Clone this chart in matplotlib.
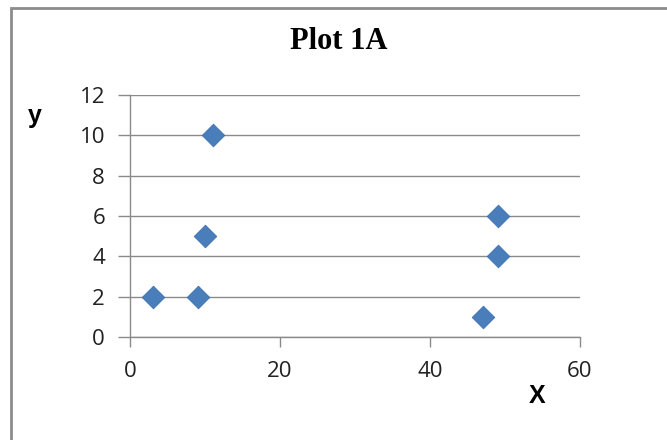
import matplotlib
matplotlib.use("Agg")
import matplotlib.pyplot as plt
from matplotlib.patches import Rectangle

# Data
x_vals = [3, 9, 10, 11, 47, 49, 49]
y_vals = [2, 2, 5, 10, 1, 4, 6]
x_ticks = [0, 20, 40, 60]
y_ticks = [0, 2, 4, 6, 8, 10, 12]
title = "Plot 1A"

W, H = 667, 440
fig = plt.figure(figsize=(W / 100, H / 100), dpi=100)
fig.patch.set_facecolor("white")

# Chart frame (open on right and bottom)
fig.patches.append(Rectangle((10.5 / W, -0.1), 1.2, (H - 8) / H + 0.1,
                             transform=fig.transFigure, fill=False,
                             edgecolor="#8c8c8c", linewidth=2.0))

ax = fig.add_axes([130 / W, 1 - 337 / H, 450 / W, 242 / H])
ax.scatter(x_vals, y_vals, marker="D", s=11.5 ** 2, color="#4a7ebb",
           edgecolor="#3f71ad", linewidth=0.6, zorder=3)

ax.set_xlim(0, 60)
ax.set_ylim(0, 12)
ax.set_xticks(x_ticks)
ax.set_yticks(y_ticks)
ax.set_xticklabels([str(t) for t in x_ticks])
ax.set_yticklabels([str(t) for t in y_ticks])

grid_c = "#8a8a8a"
ax.grid(axis="y", color=grid_c, linewidth=1.0)
ax.set_axisbelow(True)
for s in ["top", "right"]:
    ax.spines[s].set_visible(False)
for s in ["left", "bottom"]:
    ax.spines[s].set_color(grid_c)
    ax.spines[s].set_linewidth(1.0)

ax.tick_params(axis="both", colors=grid_c, labelcolor="#222222",
               labelsize=16, direction="out")
ax.tick_params(axis="y", length=9, width=1.0, pad=9)
ax.tick_params(axis="x", length=7, width=1.0, pad=10)
for lbl in ax.get_xticklabels() + ax.get_yticklabels():
    lbl.set_fontfamily("Open Sans")

fig.text(338.5 / W, 1 - 49 / H, title, ha="center", va="baseline",
         fontsize=22, fontweight="bold", family="Liberation Serif")
fig.text(35 / W, 1 - 123 / H, "y", ha="center", va="baseline",
         fontsize=18, fontweight="bold", family="Liberation Sans")
fig.text(537.5 / W, 1 - 403 / H, "X", ha="center", va="baseline",
         fontsize=18, fontweight="bold", family="Liberation Sans")

fig.savefig("out.png", dpi=100)
